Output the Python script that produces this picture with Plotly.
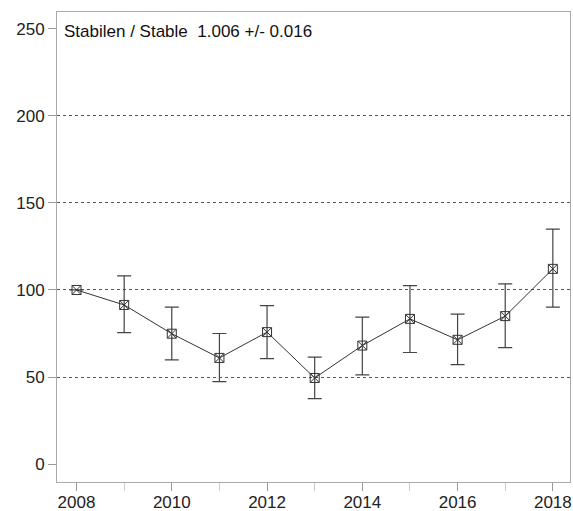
import plotly.graph_objects as go

years = [2008, 2009, 2010, 2011, 2012, 2013, 2014, 2015, 2016, 2017, 2018]
index_vals = [100.0, 91.4, 74.9, 61.0, 75.8, 49.5, 68.1, 83.4, 71.4, 85.0, 112.1]
upper_vals = [100.0, 108.1, 90.1, 75.0, 91.0, 61.4, 84.4, 102.5, 86.1, 103.5, 134.9]
lower_vals = [100.0, 75.5, 59.9, 47.4, 60.6, 37.7, 51.3, 64.1, 57.2, 66.9, 90.1]

y_tick_vals = [0, 50, 100, 150, 200, 250]
grid_vals = [50, 100, 150, 200]
x_tick_vals = [2008, 2010, 2012, 2014, 2016, 2018]
trend_label = "Stabilen / Stable\u00a0\u00a01.006 +/- 0.016"

err_plus = [u - v for u, v in zip(upper_vals, index_vals)]
err_minus = [v - l for v, l in zip(index_vals, lower_vals)]

fig = go.Figure()
fig.add_trace(go.Scatter(x=[years[0]], y=[None], yaxis="y2", showlegend=False, hoverinfo="skip"))
fig.add_trace(go.Scatter(
    x=years, y=index_vals, mode="lines+markers",
    line=dict(color="#333333", width=1),
    marker=dict(symbol="square-x-open", size=9, color="#333333", line=dict(width=1, color="#333333")),
    error_y=dict(type="data", symmetric=False, array=err_plus, arrayminus=err_minus,
                 color="#444444", thickness=1.2, width=7),
    showlegend=False,
))

yrange = [-10.2, 259.5]
fig.update_layout(
    width=573, height=511,
    margin=dict(l=57, r=3, t=12, b=29),
    paper_bgcolor="white", plot_bgcolor="white",
    font=dict(family="Liberation Sans, Arial, sans-serif", size=17, color="#222222"),
    xaxis=dict(range=[2007.59, 2018.36], tickvals=x_tick_vals, ticks="outside", ticklen=8,
               tickcolor="#999999", showgrid=False, zeroline=False, showline=True, mirror=True,
               linecolor="#aaaaaa", linewidth=1, automargin=False, ticklabelstandoff=-3,
               minor=dict(dtick=1, tick0=2008, ticks="outside", ticklen=8, tickcolor="#cccccc", showgrid=False)),
    yaxis=dict(range=yrange, tickvals=y_tick_vals, ticks="outside", ticklen=8, tickcolor="#999999",
               showgrid=False, zeroline=False, showline=True, mirror=True,
               linecolor="#aaaaaa", linewidth=1, automargin=False),
    yaxis2=dict(range=yrange, overlaying="y", tickvals=grid_vals, showticklabels=False, ticks="",
                showgrid=True, gridcolor="#555555", griddash="dot", gridwidth=1, zeroline=False,
                showline=False, automargin=False),
    annotations=[dict(text=trend_label, xref="paper", yref="y", x=0.01, y=248.5,
                      xanchor="left", yanchor="middle", showarrow=False,
                      font=dict(size=17, color="#111111"))],
)

fig.write_html("out.html", config={"displayModeBar": False},
               post_script="document.body.style.margin='0';document.body.style.overflow='hidden';")
